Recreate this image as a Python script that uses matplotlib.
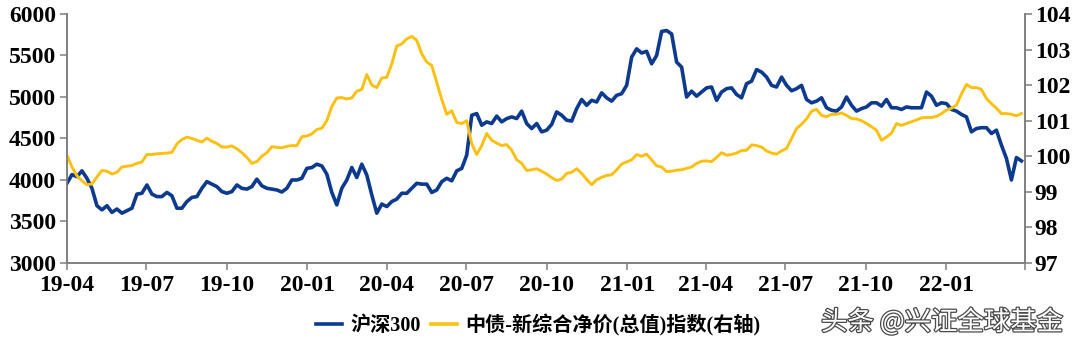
import matplotlib
matplotlib.use('Agg')
import matplotlib.pyplot as plt
import matplotlib.patheffects as pe
import pandas as pd

# ---- data (evenly spaced samples) ----
start_date = '2019-04-01'
end_date = '2022-03-28'

hs300 = [
    3960, 4065, 4040, 4110, 4020, 3900, 3690, 3640, 3690, 3610, 3650, 3600, 3630, 3660, 3830, 3840,
    3940, 3830, 3800, 3800, 3850, 3810, 3660, 3660, 3740, 3790, 3800, 3900, 3980, 3950, 3920, 3860,
    3840, 3860, 3940, 3900, 3890, 3920, 4010, 3930, 3900, 3890, 3880, 3855, 3900, 4000, 4000, 4020,
    4140, 4150, 4190, 4170, 4070, 3850, 3700, 3900, 4000, 4150, 4030, 4190, 4060, 3820, 3600, 3710,
    3680, 3740, 3770, 3840, 3840, 3900, 3960, 3950, 3950, 3850, 3880, 3980, 4020, 3990, 4110, 4140,
    4300, 4780, 4800, 4660, 4700, 4680, 4770, 4700, 4740, 4760, 4740, 4830, 4680, 4620, 4680, 4580,
    4600, 4670, 4820, 4780, 4720, 4710, 4860, 4970, 4900, 4960, 4940, 5050, 4990, 4950, 5020, 5040,
    5140, 5480, 5580, 5530, 5550, 5400, 5500, 5790, 5800, 5760, 5420, 5360, 5000, 5070, 5010, 5060,
    5110, 5120, 4960, 5060, 5100, 5110, 5030, 4990, 5160, 5190, 5330, 5300, 5240, 5140, 5120, 5240,
    5140, 5075, 5100, 5140, 4970, 4930, 4950, 4990, 4870, 4840, 4830, 4880, 5000, 4900, 4830, 4860,
    4880, 4930, 4930, 4890, 4970, 4870, 4870, 4850, 4880, 4870, 4870, 4870, 5060, 5010, 4900, 4930,
    4920, 4850, 4830, 4790, 4760, 4580, 4620, 4630, 4630, 4560, 4600, 4420, 4260, 4000, 4270, 4230,
]

bond_index = [
    100.03, 99.70, 99.45, 99.31, 99.20, 99.22, 99.42, 99.60, 99.58, 99.50, 99.55, 99.70, 99.72, 99.74, 99.80, 99.84,
    100.05, 100.05, 100.07, 100.08, 100.09, 100.11, 100.35, 100.47, 100.54, 100.50, 100.45, 100.40, 100.51, 100.42, 100.36, 100.26,
    100.26, 100.29, 100.21, 100.10, 99.97, 99.80, 99.85, 100.00, 100.10, 100.27, 100.25, 100.24, 100.28, 100.30, 100.30, 100.55,
    100.57, 100.63, 100.75, 100.79, 101.00, 101.40, 101.64, 101.65, 101.61, 101.64, 101.83, 101.88, 102.30, 102.00, 101.93, 102.20,
    102.22, 102.60, 103.10, 103.16, 103.30, 103.37, 103.26, 102.88, 102.65, 102.55, 102.08, 101.60, 101.18, 101.28, 100.95, 100.92,
    101.00, 100.35, 100.05, 100.30, 100.64, 100.45, 100.37, 100.30, 100.33, 100.17, 99.90, 99.80, 99.60, 99.62, 99.65, 99.58,
    99.50, 99.40, 99.32, 99.36, 99.52, 99.55, 99.65, 99.52, 99.35, 99.20, 99.34, 99.41, 99.46, 99.48, 99.62, 99.78,
    99.84, 99.90, 100.05, 100.00, 100.06, 99.90, 99.73, 99.70, 99.57, 99.58, 99.61, 99.62, 99.66, 99.70, 99.80, 99.86,
    99.87, 99.85, 99.97, 100.10, 100.03, 100.05, 100.09, 100.16, 100.17, 100.32, 100.30, 100.26, 100.15, 100.09, 100.06, 100.15,
    100.22, 100.50, 100.78, 100.90, 101.05, 101.27, 101.32, 101.15, 101.11, 101.18, 101.18, 101.22, 101.15, 101.06, 101.05, 101.00,
    100.92, 100.83, 100.73, 100.45, 100.54, 100.65, 100.92, 100.87, 100.92, 100.97, 101.02, 101.08, 101.09, 101.09, 101.12, 101.20,
    101.30, 101.35, 101.44, 101.75, 102.02, 101.93, 101.93, 101.88, 101.62, 101.48, 101.35, 101.20, 101.20, 101.18, 101.14, 101.20,
]

left_ticks = [3000, 3500, 4000, 4500, 5000, 5500, 6000]
right_ticks = [97, 98, 99, 100, 101, 102, 103, 104]
x_tick_dates = pd.date_range('2019-04-01', '2022-04-01', freq='QS')
x_tick_labels = ['19-04', '19-07', '19-10', '20-01', '20-04', '20-07', '20-10',
                 '21-01', '21-04', '21-07', '21-10', '22-01', '']
label_hs = '沪深300'
label_bond = '中债-新综合净价(总值)指数(右轴)'
watermark = '头条 @兴证全球基金'

dates = pd.date_range(start_date, end_date, periods=len(hs300))

BLUE = '#0b3a8f'
GOLD = '#fdc010'
GRAY = '#7f7f7f'
serif = ['Liberation Serif', 'DejaVu Serif']
cjk = ['Liberation Serif', 'Noto Sans CJK SC', 'DejaVu Sans']

fig = plt.figure(figsize=(10.8, 3.48), dpi=100)
ax = fig.add_axes([0.062, 0.2443, 0.887, 0.7155])
ax2 = ax.twinx()

l1, = ax.plot(dates, hs300, color=BLUE, lw=2.6, label=label_hs, zorder=3)
l2, = ax2.plot(dates, bond_index, color=GOLD, lw=2.1, label=label_bond)

ax.set_xlim(pd.Timestamp('2019-04-01'), pd.Timestamp('2022-04-01'))
ax.set_ylim(3000, 6000)
ax2.set_ylim(97, 104)
ax.set_yticks(left_ticks)
ax2.set_yticks(right_ticks)
ax.set_xticks(x_tick_dates)
ax.set_xticklabels(x_tick_labels)

for a in (ax, ax2):
    a.spines['top'].set_visible(False)
    for s in ('left', 'right', 'bottom'):
        a.spines[s].set_color(GRAY)
        a.spines[s].set_linewidth(1.2)
    a.tick_params(direction='out', length=5, width=1.1, color=GRAY, labelsize=17)
    for t in a.get_xticklabels() + a.get_yticklabels():
        t.set_fontfamily(serif)
        t.set_fontweight('bold')
ax.tick_params(axis='y', pad=3)
ax.tick_params(axis='x', pad=4)
ax2.tick_params(axis='y', pad=2)

leg = fig.legend([l1, l2], [label_hs, label_bond], loc='center',
                 bbox_to_anchor=(538 / 1080, 1 - 325 / 348), ncol=2, frameon=False,
                 handlelength=1.3, handletextpad=0.4, columnspacing=0.5,
                 prop={'family': cjk, 'weight': 'bold', 'size': 14.5})
for h in leg.get_lines():
    h.set_linewidth(2.6)

fig.text(942 / 1080, 1 - 322 / 348, watermark, ha='center', va='center',
         fontsize=19, color='white', family=['Noto Sans CJK SC', 'DejaVu Sans'],
         path_effects=[pe.withStroke(linewidth=1.8, foreground='#4a4a4a')])

fig.savefig('out.png', dpi=100)
